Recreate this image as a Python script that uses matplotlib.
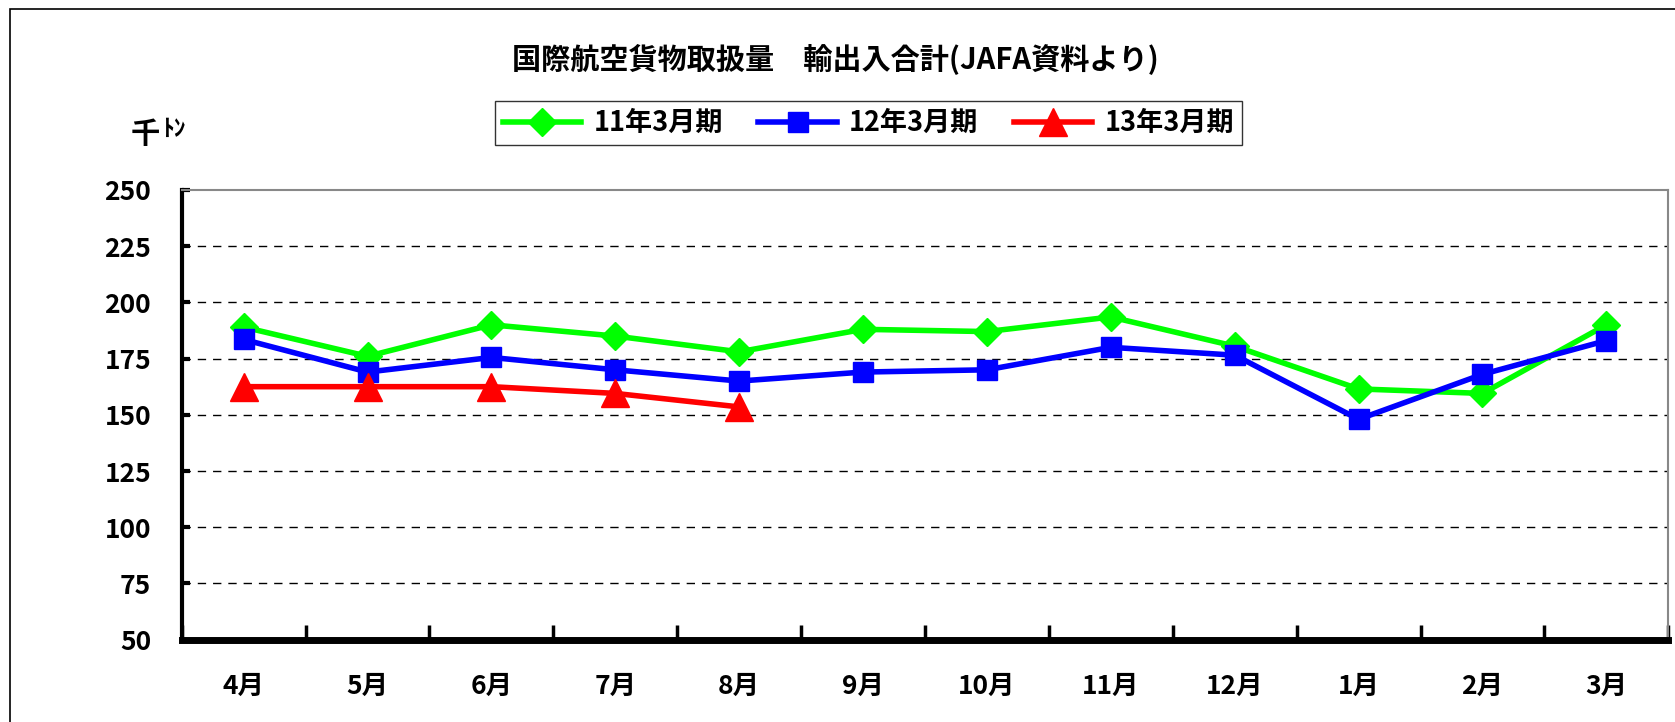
import numpy as np
import matplotlib
matplotlib.use('Agg')
import matplotlib.pyplot as plt
from matplotlib.patches import Rectangle

plt.rcParams['font.family'] = ['Noto Sans CJK JP', 'DejaVu Sans']
plt.rcParams['font.weight'] = 'bold'

months = ['4月', '5月', '6月', '7月', '8月', '9月', '10月', '11月', '12月', '1月', '2月', '3月']
fy11 = [189, 176, 190, 185, 178, 188, 187, 193.5, 180.5, 161.5, 159.5, 190]
fy12 = [183.5, 169, 175.5, 170, 165, 169, 170, 180, 176.5, 148, 168, 183]
fy13 = [162.5, 162.5, 162.5, 159.5, 153.5]
series_names = ['11年3月期', '12年3月期', '13年3月期']
yticks = [50, 75, 100, 125, 150, 175, 200, 225, 250]

fig = plt.figure(figsize=(16.75, 7.22), dpi=100)
ax = fig.add_axes([0.1085, 0.114, 0.8875, 0.623])

x = np.arange(len(months))
ax.plot(x, fy11, color='#00ff00', lw=4, marker='D', ms=14, label=series_names[0])
ax.plot(x, fy12, color='#0000ff', lw=4, marker='s', ms=14, label=series_names[1])
ax.plot(x[:len(fy13)], fy13, color='#ff0000', lw=4, marker='^', ms=20, label=series_names[2])

ax.set_xlim(-0.5, len(months) - 0.5)
ax.set_ylim(50, 250)
ax.set_yticks(yticks)
ax.set_yticklabels([str(v) for v in yticks], fontsize=19, fontweight='bold')
for v in yticks[1:-1]:
    ax.axhline(v, color='black', lw=1, ls=(0, (6, 5)), zorder=0)

ax.set_xticks(x)
ax.set_xticklabels(months, fontsize=19, fontweight='bold')
ax.tick_params(axis='x', which='major', length=0, pad=24)
ax.set_xticks(np.arange(len(months) + 1) - 0.5, minor=True)
ax.tick_params(axis='x', which='minor', direction='in', length=11, width=2.5)
ax.tick_params(axis='y', direction='in', length=6, width=3, pad=22)

ax.spines['left'].set_linewidth(3)
ax.spines['bottom'].set_linewidth(5)
ax.spines['top'].set_color('#888888')
ax.spines['right'].set_color('#888888')
ax.spines['top'].set_linewidth(1.5)
ax.spines['right'].set_linewidth(1.5)

fig.text(0.4985, 0.918, '国際航空貨物取扱量　輸出入合計(JAFA資料より)', ha='center', va='center',
         fontsize=21, fontweight='bold')
fig.text(0.078, 0.815, '千', ha='left', va='center', fontsize=21, fontweight='bold')
fig.text(0.097, 0.822, 'ﾄﾝ', ha='left', va='center', fontsize=17, fontweight='bold')

leg = fig.legend(loc='center', bbox_to_anchor=(0.5185, 0.8295), ncol=3, fontsize=19.5,
                 frameon=True, fancybox=False, edgecolor='black', handlelength=2.9,
                 columnspacing=1.3, handletextpad=0.45, borderpad=0.3)
leg.get_frame().set_linewidth(1)
for t in leg.get_texts():
    t.set_fontweight('bold')

fig.patches.append(Rectangle((10 / 1675, -0.1), 1.2, 1.1 - 9 / 722, transform=fig.transFigure,
                             fill=False, edgecolor='black', lw=1.2))

fig.savefig('out.png', dpi=100)
